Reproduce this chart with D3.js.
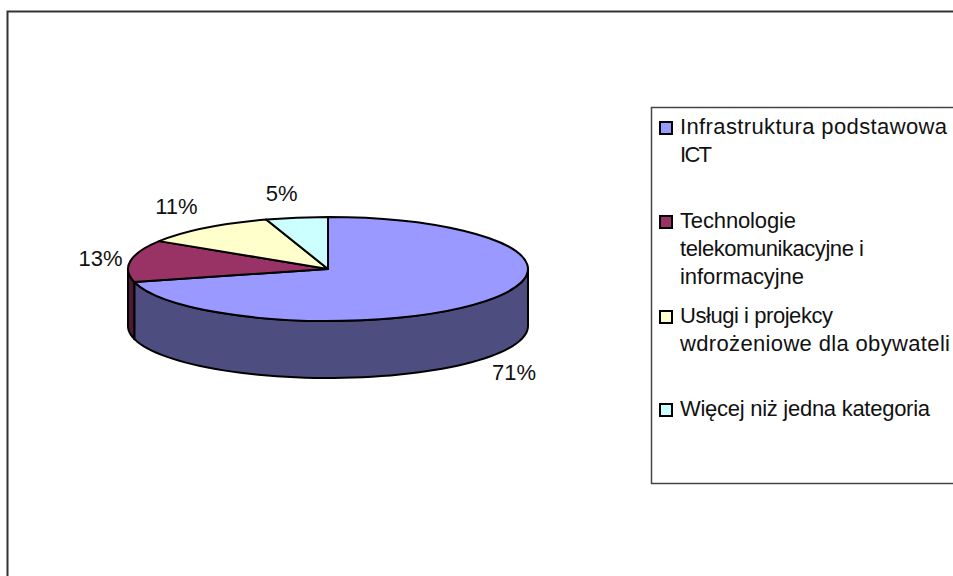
<!DOCTYPE html>
<html>
<head>
<meta charset="utf-8">
<script src="https://cdn.jsdelivr.net/npm/d3@7"></script>
<style>
    html, body { margin: 0; padding: 0; background: #fff; overflow: hidden; }
    text { font-family: "Liberation Sans", Arial, sans-serif; fill: #111; }
</style>
</head>
<body>
<div id="chart"></div>
<script>
const categories = ["Infrastruktura podstawowa ICT", "Technologie telekomunikacyjne i informacyjne", "Usługi i projekcy wdrożeniowe dla obywateli", "Więcej niż jedna kategoria"];
const values = [71, 13, 11, 5];
const valueLabels = ["71%", "13%", "11%", "5%"];
const legendLines = [
    ["Infrastruktura podstawowa", "ICT"],
    ["Technologie", "telekomunikacyjne i", "informacyjne"],
    ["Usługi i projekcy", "wdrożeniowe dla obywateli"],
    ["Więcej niż jedna kategoria"]
];
const topColors = ["#9999ff", "#993366", "#ffffcc", "#ccffff"];
const sideColors = ["#4d4d80", "#4d1a33", "#80805f", "#668080"];

const width = 953, height = 576;
const cx = 328, cy = 269, rx = 200, ry = 52, depth = 57;

// label anchors relative to the rim point at the middle of each slice
const labelOffsets = [[28, 79], [-30, 5], [-29, -14], [-15, -17]];
const legendRows = [134, 228, 323, 416];
const legendLineGap = 27.8;
// the source squeezes glyphs and opens gaps, so each line is fitted to its measured width
const legendWidths = [[267, 32], [116, 184, 124], [153, 270], [250]];

const svg = d3.select("#chart").append("svg")
    .attr("width", width)
    .attr("height", height)
    .style("display", "block");

// outer frame runs off the right and bottom of the window
svg.append("rect")
    .attr("x", 7.5).attr("y", 11.5)
    .attr("width", width + 20).attr("height", height + 20)
    .attr("fill", "#fff").attr("stroke", "#333").attr("stroke-width", 2);

const pie = d3.pie().sort(null).value(d => d).startAngle(0).endAngle(2 * Math.PI);
const slices = pie(values);

const xScale = d3.scaleLinear().domain([-1, 1]).range([cx - rx, cx + rx]);
const yScale = d3.scaleLinear().domain([-1, 1]).range([cy - ry, cy + ry]);
const rimX = a => xScale(Math.sin(a));
const rimY = a => yScale(-Math.cos(a));

// front wall: only the part of the rim between 3 and 9 o'clock is visible
const sideLine = d3.line();
const wall = svg.append("g");
slices.forEach((s, i) => {
    const a0 = Math.max(s.startAngle, Math.PI / 2);
    const a1 = Math.min(s.endAngle, 3 * Math.PI / 2);
    if (a0 >= a1) return;
    const angles = d3.range(0, 61).map(k => a0 + (a1 - a0) * k / 60);
    const pts = angles.map(a => [rimX(a), rimY(a)])
        .concat(angles.slice().reverse().map(a => [rimX(a), rimY(a) + depth]));
    wall.append("path")
        .attr("d", sideLine(pts) + "Z")
        .attr("fill", sideColors[i])
        .attr("stroke", "#000").attr("stroke-width", 2).attr("stroke-linejoin", "round");
});

// top face, a d3 arc squashed into an ellipse
const arc = d3.arc().innerRadius(0).outerRadius(rx);
svg.append("g")
    .attr("transform", `translate(${cx},${cy}) scale(1,${ry / rx})`)
    .selectAll("path")
    .data(slices)
    .join("path")
    .attr("d", arc)
    .attr("fill", (d, i) => topColors[i])
    .attr("stroke", "#000")
    .attr("stroke-width", 2)
    .attr("stroke-linejoin", "round")
    .attr("vector-effect", "non-scaling-stroke");

svg.append("g")
    .selectAll("text")
    .data(slices)
    .join("text")
    .attr("x", (d, i) => rimX((d.startAngle + d.endAngle) / 2) + labelOffsets[i][0])
    .attr("y", (d, i) => rimY((d.startAngle + d.endAngle) / 2) + labelOffsets[i][1])
    .attr("text-anchor", "middle")
    .attr("font-size", 22)
    .text((d, i) => valueLabels[i]);

// legend box, also cut off by the window edge
svg.append("rect")
    .attr("x", 651.5).attr("y", 107.5)
    .attr("width", 340).attr("height", 376)
    .attr("fill", "#fff").attr("stroke", "#444").attr("stroke-width", 1.5);

const legendItems = svg.append("g")
    .selectAll("g")
    .data(categories)
    .join("g");

legendItems.append("rect")
    .attr("x", 660).attr("y", (d, i) => legendRows[i] - 12)
    .attr("width", 12).attr("height", 12)
    .attr("fill", (d, i) => topColors[i])
    .attr("stroke", "#000").attr("stroke-width", 2);

legendItems.each(function (d, i) {
    d3.select(this).selectAll("text")
        .data(legendLines[i])
        .join("text")
        .attr("x", 680)
        .attr("y", (line, k) => legendRows[i] + k * legendLineGap)
        .attr("font-size", 22)
        .attr("textLength", (line, k) => legendWidths[i][k])
        .attr("lengthAdjust", "spacing")
        .text(line => line);
});
</script>
</body>
</html>
